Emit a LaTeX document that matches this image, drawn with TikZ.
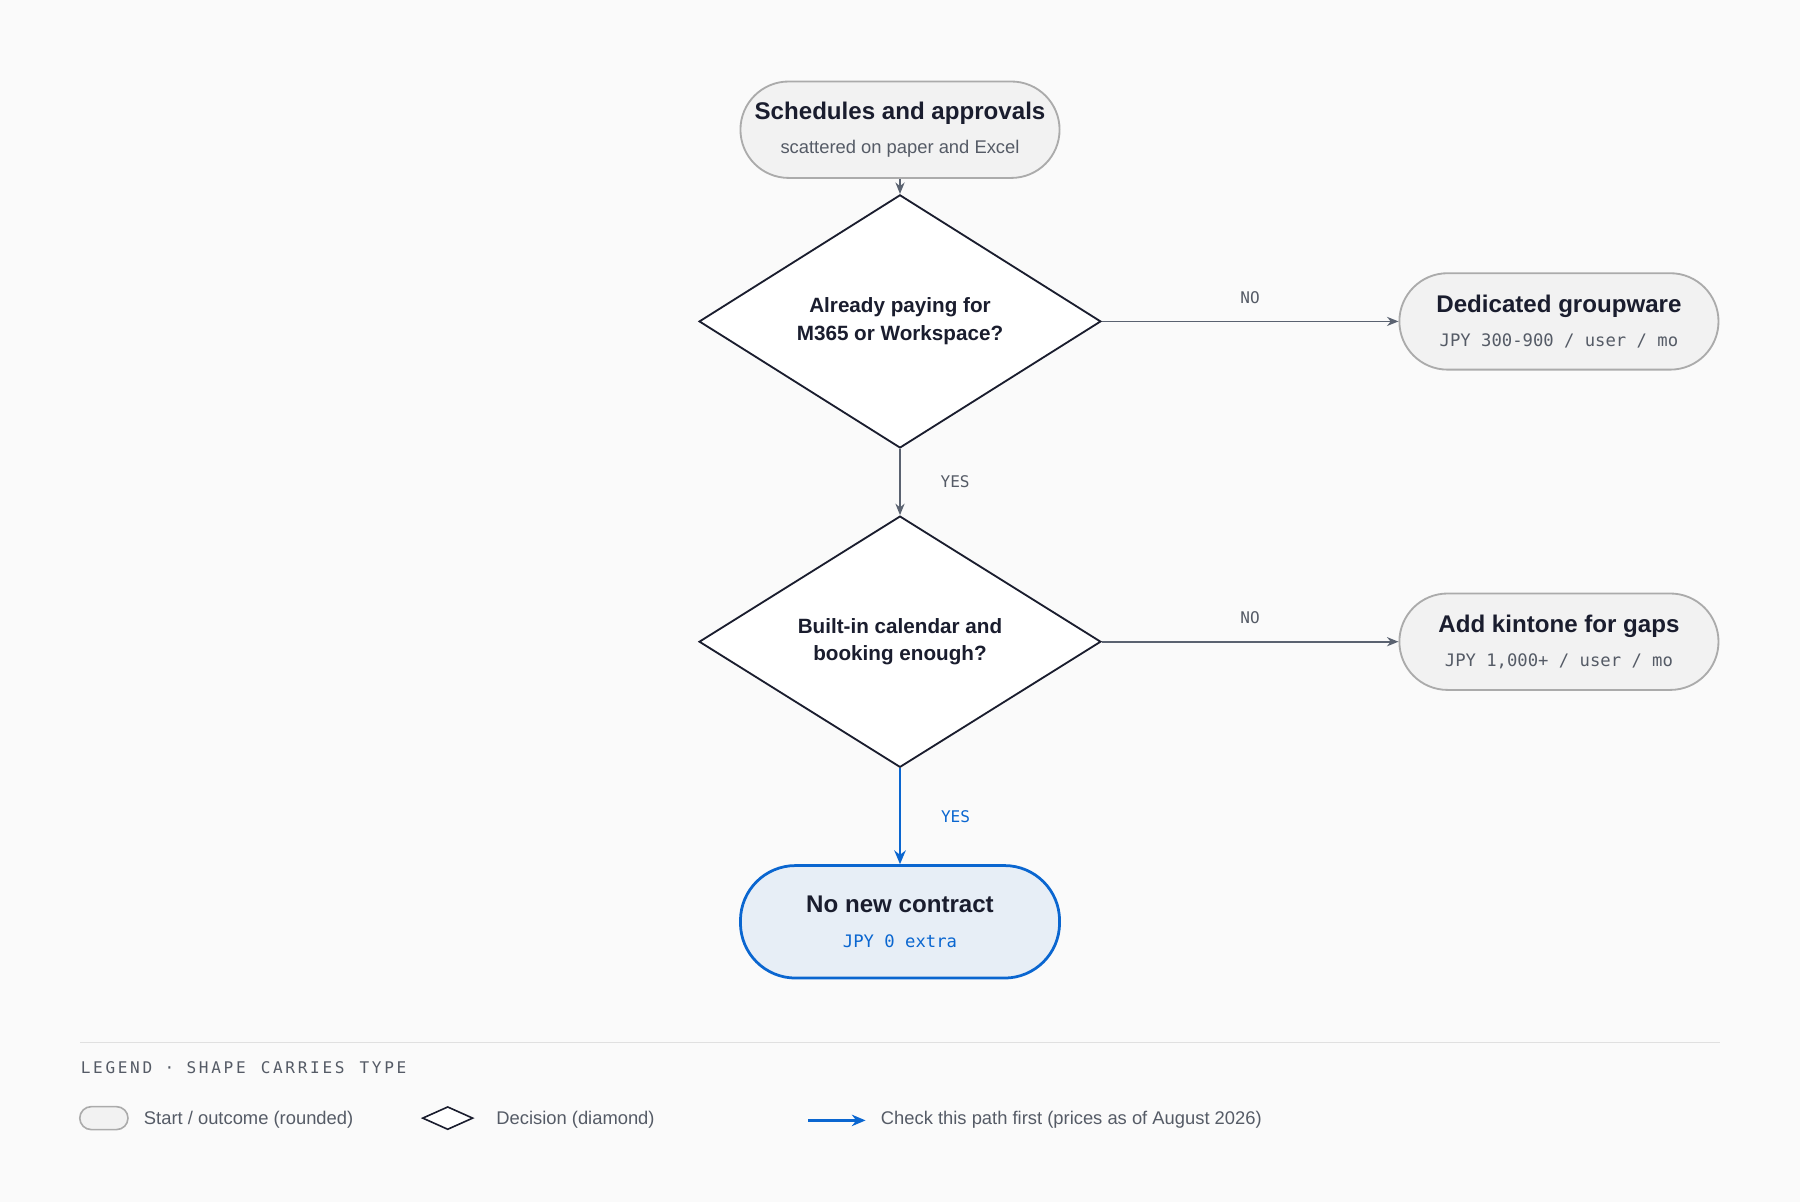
\documentclass[tikz,border=0pt]{standalone}
\usepackage{fontspec}
\setmainfont{Liberation Sans}
\setmonofont{DejaVu Sans Mono}
\usetikzlibrary{shapes.geometric,arrows.meta}
\definecolor{bg}{HTML}{FAFAFA}
\definecolor{ink}{HTML}{1A1D2E}
\definecolor{sub}{HTML}{555B66}
\definecolor{edge}{HTML}{5A6270}
\definecolor{pillb}{HTML}{ABABAB}
\definecolor{pillf}{HTML}{F2F2F2}
\definecolor{blu}{HTML}{0A66D0}
\definecolor{bluf}{HTML}{E7EEF6}
\begin{document}
\begin{tikzpicture}[x=0.5pt,y=-0.5pt,
  pill/.style={draw=pillb,fill=pillf,line width=0.8pt,rounded corners=21pt,minimum width=139pt,minimum height=42pt,align=center,inner sep=0pt,text=ink},
  dec/.style={diamond,draw=ink,fill=white,line width=0.8pt,minimum width=175pt,minimum height=84pt,inner sep=0pt,align=center,text=ink,font=\bfseries\fontsize{9}{12}\selectfont},
  ttl/.style={font=\bfseries\fontsize{10.5}{12}\selectfont},
  arr/.style={draw=edge,line width=0.7pt,-{Stealth[length=5pt,width=4pt]}},
  lbl/.style={font=\ttfamily\fontsize{7}{8}\selectfont,text=sub},
]
\fill[bg] (0,0) rectangle (1568,1047);
\node[pill] (start) at (784,113) {{\bfseries\fontsize{10.5}{12}\selectfont Schedules and approvals}\\[3pt]{\fontsize{8}{10}\selectfont\color{sub}scattered on paper and Excel}};
\node[dec] (d1) at (784,280) {Already paying for\\M365 or Workspace?};
\node[pill] (grp) at (1358,280) {{\bfseries\fontsize{10.5}{12}\selectfont Dedicated groupware}\\[3pt]{\ttfamily\fontsize{7.5}{10}\selectfont\color{sub}JPY 300-900 / user / mo}};
\node[dec] (d2) at (784,559) {Built-in calendar and\\booking enough?};
\node[pill] (kin) at (1358,559) {{\bfseries\fontsize{10.5}{12}\selectfont Add kintone for gaps}\\[3pt]{\ttfamily\fontsize{7.5}{10}\selectfont\color{sub}JPY 1,000+ / user / mo}};
\node[pill,draw=blu,fill=bluf,line width=1.2pt,minimum height=49pt,rounded corners=24pt] (none) at (784,803) {{\bfseries\fontsize{10.5}{12}\selectfont No new contract}\\[3pt]{\ttfamily\fontsize{7.5}{10}\selectfont\color{blu}JPY 0 extra}};
\draw[arr] (start) -- (d1);
\draw[arr] (d1) -- node[lbl,above,pos=0.5,yshift=4pt]{NO} (grp);
\draw[arr] (d1) -- node[lbl,right,xshift=14pt]{YES} (d2);
\draw[arr] (d2) -- node[lbl,above,pos=0.5,yshift=4pt]{NO} (kin);
\draw[draw=blu,line width=1.1pt,-{Stealth[length=6pt,width=5pt]}] (d2) -- node[lbl,right,xshift=14pt,text=blu]{YES} (none);
% legend
\draw[draw=black!12,line width=0.6pt] (70,908) -- (1498,908);
\node[lbl,anchor=west,inner sep=0pt] (lt) at (70,930) {L\,E\,G\,E\,N\,D\, · \,S\,H\,A\,P\,E\, \,C\,A\,R\,R\,I\,E\,S\, \,T\,Y\,P\,E};
\node[draw=pillb,fill=pillf,line width=0.7pt,rounded corners=5pt,minimum width=21pt,minimum height=10pt,inner sep=0pt] (lp) at (90.5,974) {};
\node[anchor=west,text=sub,font=\fontsize{8}{10}\selectfont,inner sep=0pt] (lpt) at (125,975) {Start / outcome (rounded)};
\node[diamond,draw=ink,fill=white,line width=0.7pt,minimum width=22pt,minimum height=10pt,inner sep=0pt] (ld) at (390,974) {};
\node[anchor=west,text=sub,font=\fontsize{8}{10}\selectfont,inner sep=0pt] (ldt) at (432,975) {Decision (diamond)};
\coordinate (la) at (704,976);
\coordinate (lb) at (754,976);
\draw[draw=blu,line width=1.1pt,-{Stealth[length=6pt,width=5pt]}] (la) -- (lb);
\node[anchor=west,text=sub,font=\fontsize{8}{10}\selectfont,inner sep=0pt] (lat) at (767,975) {Check this path first (prices as of August 2026)};
\end{tikzpicture}
\end{document}
